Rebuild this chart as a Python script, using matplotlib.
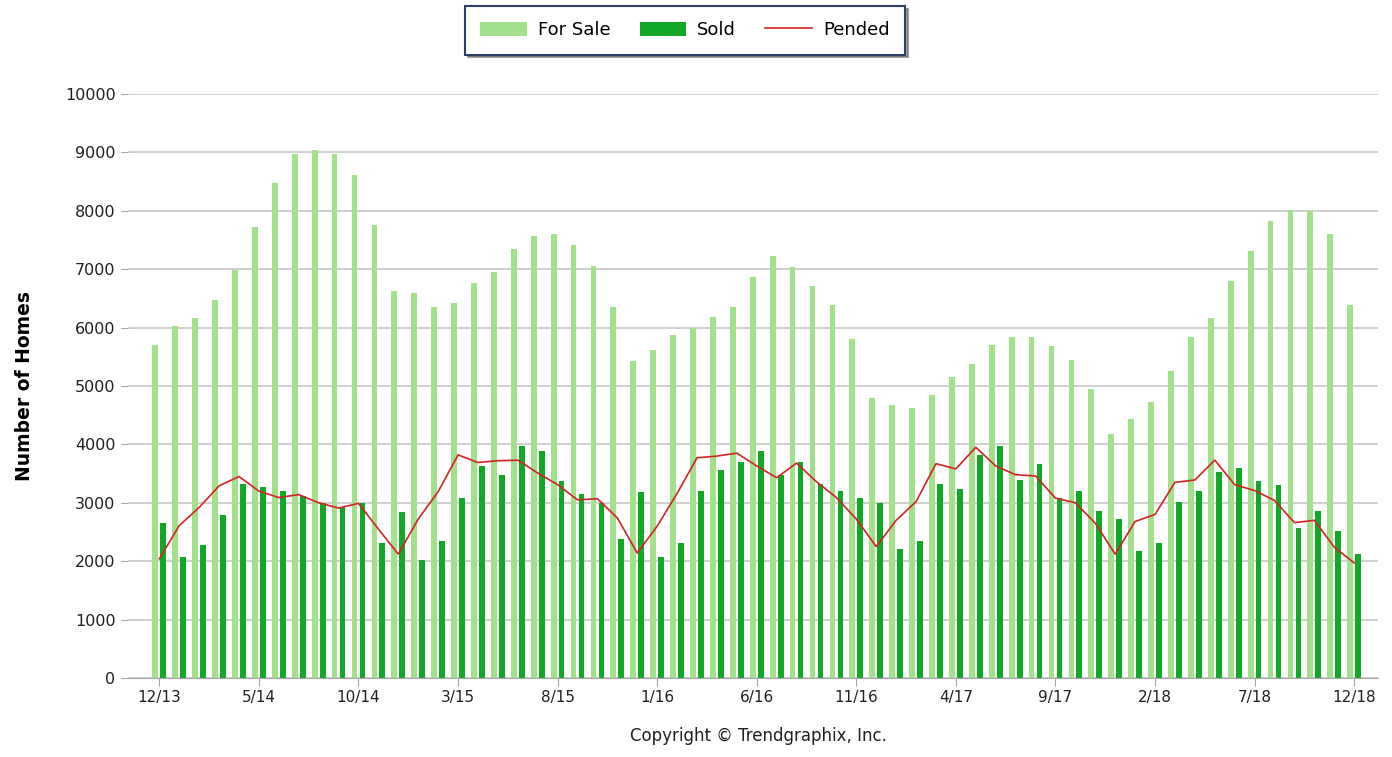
import numpy as np
import matplotlib
matplotlib.use('Agg')
import matplotlib.pyplot as plt

months = ['12/13', '1/14', '2/14', '3/14', '4/14', '5/14', '6/14', '7/14', '8/14', '9/14', '10/14', '11/14',
          '12/14', '1/15', '2/15', '3/15', '4/15', '5/15', '6/15', '7/15', '8/15', '9/15', '10/15', '11/15',
          '12/15', '1/16', '2/16', '3/16', '4/16', '5/16', '6/16', '7/16', '8/16', '9/16', '10/16', '11/16',
          '12/16', '1/17', '2/17', '3/17', '4/17', '5/17', '6/17', '7/17', '8/17', '9/17', '10/17', '11/17',
          '12/17', '1/18', '2/18', '3/18', '4/18', '5/18', '6/18', '7/18', '8/18', '9/18', '10/18', '11/18',
          '12/18']

for_sale = [5700, 6030, 6160, 6480, 6990, 7730, 8470, 8980, 9040, 8980, 8620, 7760,
            6630, 6600, 6350, 6420, 6770, 6960, 7350, 7570, 7600, 7410, 7060, 6350,
            5420, 5610, 5870, 5990, 6190, 6350, 6870, 7220, 7030, 6710, 6380, 5800,
            4790, 4680, 4620, 4840, 5160, 5380, 5700, 5840, 5840, 5680, 5450, 4940,
            4180, 4430, 4720, 5260, 5840, 6160, 6800, 7320, 7830, 8020, 7990, 7600,
            6380]

sold = [2660, 2080, 2270, 2790, 3330, 3270, 3200, 3120, 3000, 2930, 2990, 2310,
        2850, 2020, 2350, 3080, 3630, 3480, 3970, 3880, 3370, 3150, 3000, 2380,
        3180, 2080, 2310, 3200, 3560, 3700, 3880, 3480, 3690, 3330, 3200, 3080,
        2990, 2210, 2340, 3330, 3240, 3820, 3970, 3390, 3670, 3080, 3200, 2860,
        2730, 2180, 2310, 3010, 3200, 3530, 3600, 3370, 3310, 2570, 2860, 2510,
        2120]

pended = [2040, 2610, 2920, 3290, 3450, 3200, 3090, 3140, 3000, 2910, 2990, 2550,
          2120, 2720, 3190, 3820, 3690, 3720, 3730, 3510, 3310, 3050, 3070, 2740,
          2140, 2600, 3160, 3770, 3800, 3850, 3630, 3430, 3680, 3360, 3090, 2720,
          2250, 2700, 3020, 3670, 3580, 3950, 3630, 3480, 3460, 3080, 3000, 2650,
          2120, 2680, 2800, 3350, 3390, 3730, 3310, 3210, 3040, 2660, 2700, 2240,
          1970]

light_green = '#a2e08c'
dark_green = '#10a826'
red = '#d42222'
grey = '#c8c8c8'

x = np.arange(len(months))

fig = plt.figure(figsize=(13.92, 7.57), dpi=100)
ax = fig.add_axes([0.092, 0.1044, 0.898, 0.7714])

b1 = ax.bar(x - 0.2, for_sale, width=0.29, color=light_green, label='For Sale', zorder=2)
b2 = ax.bar(x + 0.2, sold, width=0.29, color=dark_green, label='Sold', zorder=2)
l1, = ax.plot(x, pended, color=red, lw=1.2, label='Pended', zorder=3)

ax.set_ylim(0, 10000)
ax.set_xlim(-1.57, 61.2)
ax.set_yticks(np.arange(0, 10001, 1000))
ax.set_xticks(x[::5])
ax.set_xticklabels(months[::5])
ax.grid(axis='y', color=grey, lw=1.2, zorder=0)
ax.set_axisbelow(True)

for s in ['top', 'right', 'left']:
    ax.spines[s].set_visible(False)
ax.spines['bottom'].set_color('#a8a8a8')
ax.tick_params(axis='y', length=5, color='#a8a8a8', labelsize=11.5, labelcolor='#202020', pad=4)
ax.tick_params(axis='x', length=6, color='#a8a8a8', labelsize=11, labelcolor='#202020', pad=3)

ax.set_ylabel('Number of Homes', fontsize=13.5, fontweight='bold', labelpad=22)

fig.text(0.545, 0.016, 'Copyright \u00a9 Trendgraphix, Inc.', ha='center', va='bottom', fontsize=12, color='#202020')

leg = fig.legend([b1, b2, l1], ['For Sale', 'Sold', 'Pended'], loc='upper center',
                 bbox_to_anchor=(0.492, 0.997), ncol=3, fontsize=13,
                 frameon=True, fancybox=False, shadow=True, handlelength=2.6, handleheight=0.9,
                 columnspacing=1.6, borderpad=0.85, handletextpad=0.6, borderaxespad=0.2)
leg.get_frame().set_edgecolor('#2e3f66')
leg.get_frame().set_linewidth(1.5)

fig.savefig('out.png', dpi=100)
